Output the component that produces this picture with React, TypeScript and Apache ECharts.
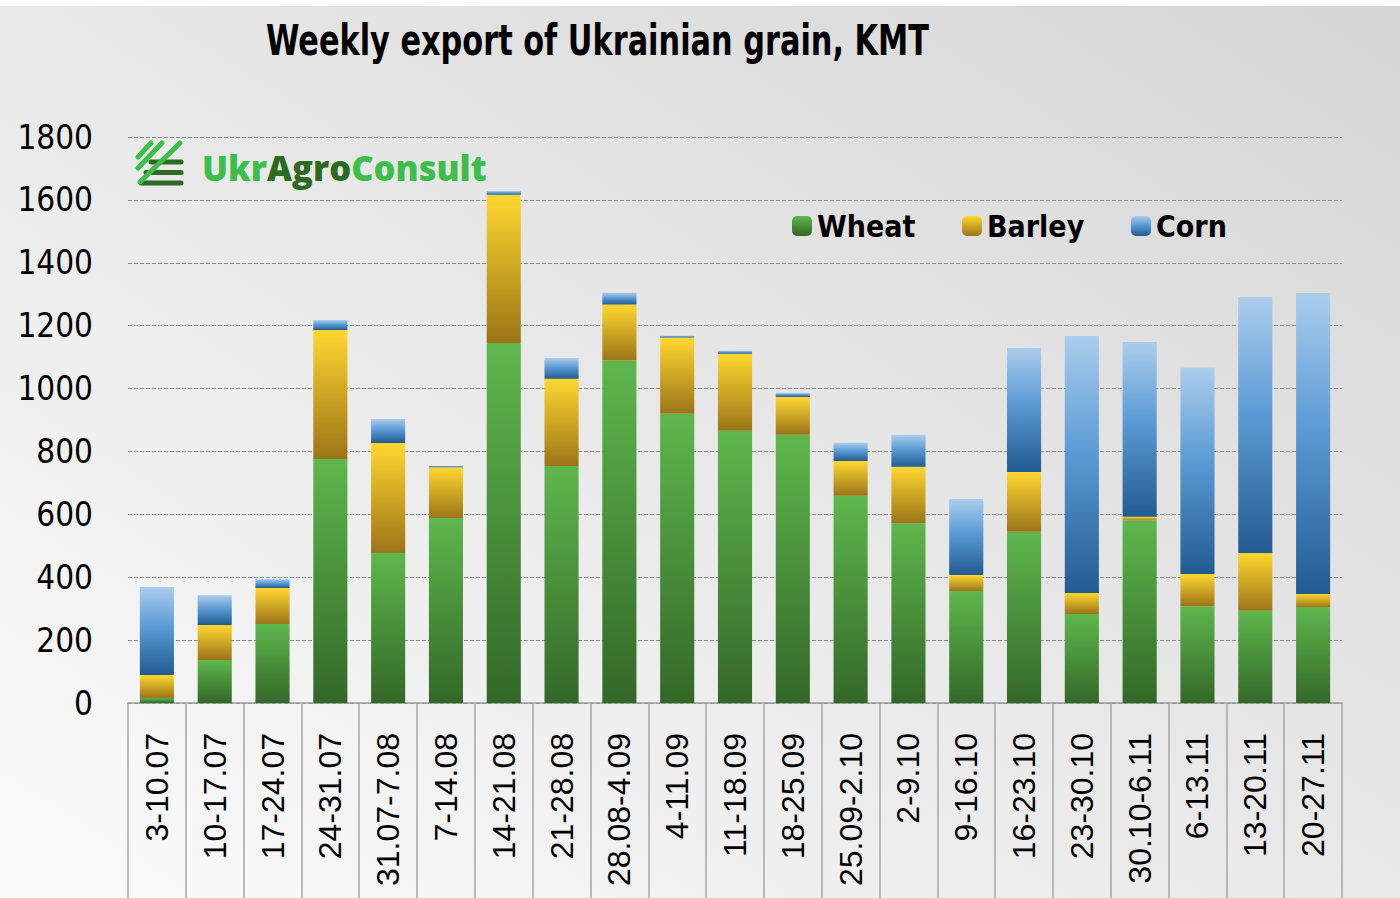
import React, { useEffect, useRef } from "react";
import * as echarts from "echarts";

const categories = [
  "3-10.07", "10-17.07", "17-24.07", "24-31.07", "31.07-7.08", "7-14.08", "14-21.08",
  "21-28.08", "28.08-4.09", "4-11.09", "11-18.09", "18-25.09", "25.09-2.10", "2-9.10",
  "9-16.10", "16-23.10", "23-30.10", "30.10-6.11", "6-13.11", "13-20.11", "20-27.11",
];
const wheat = [16, 137, 251, 776, 477, 588, 1145, 754, 1089, 920, 866, 853, 659, 572, 356, 545, 283, 580, 308, 293, 305];
const barley = [73, 111, 115, 410, 350, 162, 471, 277, 178, 242, 245, 120, 111, 179, 51, 190, 67, 12, 102, 184, 42];
const corn = [280, 95, 28, 32, 76, 4, 12, 66, 38, 6, 9, 13, 58, 102, 242, 394, 817, 556, 656, 814, 957];
const yTicks = { min: 0, max: 1800, interval: 200 };
const titleText = "Weekly export of Ukrainian grain, KMT";

const NARROW = "'Liberation Sans Narrow', 'DejaVu Sans Condensed', 'Arial Narrow', sans-serif";

const vGrad = (stops: [number, string][]) =>
  new echarts.graphic.LinearGradient(0, 0, 0, 1, stops.map(([offset, color]) => ({ offset, color })));

export default function App() {
  const ref = useRef<HTMLDivElement>(null);
  useEffect(() => {
    document.body.style.margin = "0";
    const chart = echarts.init(ref.current!, undefined, { renderer: "svg" });
    const wheatColor = vGrad([[0, "#5eb74c"], [1, "#336828"]]);
    const barleyColor = vGrad([[0, "#ffd730"], [1, "#9b7518"]]);
    const cornColor = vGrad([[0, "#abcdec"], [0.45, "#5b9bd5"], [1, "#225b91"]]);
    const legendText = {
      fontFamily: NARROW,
      fontWeight: "bold" as const,
      fontSize: 30,
      color: "#000",
    };
    const dark = { stroke: "#2c6b22", lineWidth: 5, lineCap: "round" };
    const light = { stroke: "#3dbd4a", lineWidth: 5, lineCap: "round" };
    chart.setOption({
      animation: false,
      graphic: [
        {
          type: "rect",
          z: -10,
          silent: true,
          shape: { x: 0, y: 0, width: 1400, height: 898 },
          style: {
            fill: new echarts.graphic.LinearGradient(0, 1, 1, 0, [
              { offset: 0, color: "#fbfbfb" },
              { offset: 1, color: "#d5d5d5" },
            ]),
          },
        },
        { type: "rect", z: -9, silent: true, shape: { x: 0, y: 0, width: 1400, height: 6 }, style: { fill: "#ffffff" } },
        {
          type: "text",
          x: 266,
          y: 18,
          scaleX: 0.785,
          style: {
            text: titleText,
            fontFamily: NARROW,
            fontWeight: "bold",
            fontSize: 43,
            fill: "#000",
          },
        },
        { type: "line", shape: { x1: 151, y1: 162, x2: 181, y2: 162 }, style: dark },
        { type: "line", shape: { x1: 146, y1: 172.5, x2: 181, y2: 172.5 }, style: dark },
        { type: "line", shape: { x1: 141, y1: 183, x2: 181, y2: 183 }, style: dark },
        { type: "line", shape: { x1: 138, y1: 157, x2: 151, y2: 143 }, style: light },
        { type: "line", shape: { x1: 138, y1: 168, x2: 162, y2: 143 }, style: light },
        { type: "line", shape: { x1: 140, y1: 182, x2: 180, y2: 143 }, style: light },
        {
          type: "text",
          left: 202,
          top: 150,
          style: {
            text: "{a|Ukr}{b|Agro}{a|Consult}",
            rich: {
              a: { fontFamily: "Open Sans", fontWeight: 800, fontSize: 34.5, fill: "#3dbd4a", color: "#3dbd4a" },
              b: { fontFamily: "Open Sans", fontWeight: 800, fontSize: 34.5, fill: "#2b6a1f", color: "#2b6a1f" },
            },
          },
        },
      ],
      legend: [
        { data: ["Wheat"], left: 787, top: 206, itemWidth: 20, itemHeight: 20, itemGap: 8, textStyle: legendText },
        { data: ["Barley"], left: 957, top: 206, itemWidth: 20, itemHeight: 20, itemGap: 8, textStyle: legendText },
        { data: ["Corn"], left: 1126, top: 206, itemWidth: 20, itemHeight: 20, itemGap: 8, textStyle: legendText },
      ],
      grid: { left: 128, right: 58, top: 137, bottom: 195, containLabel: false },
      xAxis: {
        type: "category",
        data: categories,
        axisLine: { show: true, lineStyle: { color: "#9a9a9a", width: 1.5 } },
        axisTick: { show: true, length: 195, lineStyle: { color: "#a6a6a6", width: 1.5 } },
        axisLabel: {
          rotate: 90,
          margin: 30,
          fontFamily: "Liberation Sans",
          fontSize: 32,
          color: "#000",
          interval: 0,
        },
      },
      yAxis: {
        type: "value",
        min: yTicks.min,
        max: yTicks.max,
        interval: yTicks.interval,
        axisLine: { show: false },
        axisTick: { show: false },
        axisLabel: {
          margin: 35,
          fontFamily: NARROW,
          fontSize: 33,
          color: "#000",
          formatter: (v: number) => String(v),
        },
        splitLine: { lineStyle: { color: "#8c8c8c", type: [4, 2], width: 1 } },
      },
      series: [
        { name: "Wheat", type: "bar", stack: "total", data: wheat, barCategoryGap: "41%", itemStyle: { color: wheatColor } },
        { name: "Barley", type: "bar", stack: "total", data: barley, itemStyle: { color: barleyColor } },
        { name: "Corn", type: "bar", stack: "total", data: corn, itemStyle: { color: cornColor } },
      ],
    });
    return () => chart.dispose();
  }, []);
  return <div ref={ref} style={{ width: 1400, height: 898 }} />;
}
